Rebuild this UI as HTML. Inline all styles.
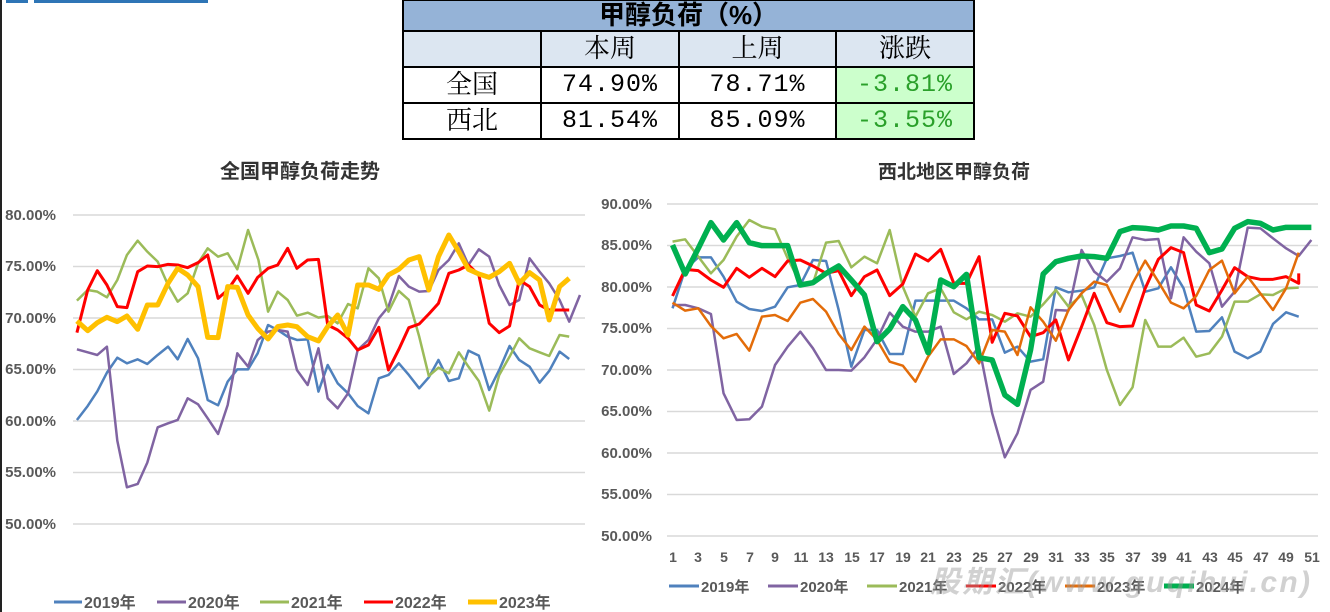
<!DOCTYPE html>
<html><head><meta charset="utf-8"><style>
body{margin:0;width:1330px;height:612px;background:#fff;overflow:hidden;position:relative;font-family:"Liberation Sans","Noto Sans CJK SC",sans-serif}
table{position:absolute;left:402px;top:-1px;border-collapse:collapse;font-family:"Liberation Serif","Noto Serif CJK SC",serif}
td{border:2px solid #000;text-align:center;font-size:26px;padding:0;height:34px;line-height:34px}
td.n{font-family:"Liberation Mono",monospace;font-size:25px;letter-spacing:1px;transform:none}
</style></head><body>
<div style="position:absolute;left:0;top:0;width:2px;height:612px;background:#222"></div>
<div style="position:absolute;left:6px;top:0;width:22px;height:3px;background:#2e75b6"></div>
<div style="position:absolute;left:34px;top:0;width:174px;height:3px;background:#2e75b6"></div>
<table>
<tr><td colspan="4" style="background:#95b3d7;font-weight:bold;height:29px;line-height:29px;font-family:'Liberation Sans','Noto Sans CJK SC',sans-serif">甲醇负荷（%）</td></tr>
<tr style="background:#dce6f1"><td style="width:136px"></td><td style="width:136px">本周</td><td style="width:155px">上周</td><td style="width:136px">涨跌</td></tr>
<tr><td>全国</td><td class="n">74.90%</td><td class="n">78.71%</td><td class="n" style="background:#ccffcc;color:#2aa02a">-3.81%</td></tr>
<tr><td>西北</td><td class="n">81.54%</td><td class="n">85.09%</td><td class="n" style="background:#ccffcc;color:#2aa02a">-3.55%</td></tr>
</table>
<svg width="1330" height="612" style="position:absolute;left:0;top:0" font-family="Liberation Sans, Noto Sans CJK SC, sans-serif">
<g font-weight="bold" font-size="20" fill="#333" text-anchor="middle">
<text x="300" y="178">全国甲醇负荷走势</text><text x="954" y="178" font-size="19">西北地区甲醇负荷</text></g>
<g stroke="#d9d9d9" stroke-width="1.5">
<line x1="73" x2="585" y1="215" y2="215"/><line x1="73" x2="585" y1="266.5" y2="266.5"/><line x1="73" x2="585" y1="318" y2="318"/><line x1="73" x2="585" y1="369.5" y2="369.5"/><line x1="73" x2="585" y1="421" y2="421"/><line x1="73" x2="585" y1="472.5" y2="472.5"/><line x1="73" x2="585" y1="524" y2="524"/>
<line x1="667" x2="1318" y1="204" y2="204"/><line x1="667" x2="1318" y1="245.5" y2="245.5"/><line x1="667" x2="1318" y1="287" y2="287"/><line x1="667" x2="1318" y1="328.5" y2="328.5"/><line x1="667" x2="1318" y1="370" y2="370"/><line x1="667" x2="1318" y1="411.5" y2="411.5"/><line x1="667" x2="1318" y1="453" y2="453"/><line x1="667" x2="1318" y1="494.5" y2="494.5"/><line x1="667" x2="1318" y1="536" y2="536"/></g>
<g font-weight="bold" font-size="15" fill="#595959" text-anchor="end">
<text x="56" y="220">80.00%</text><text x="56" y="271">75.00%</text><text x="56" y="323">70.00%</text><text x="56" y="374">65.00%</text><text x="56" y="426">60.00%</text><text x="56" y="477">55.00%</text><text x="56" y="529">50.00%</text>
<text x="652" y="209">90.00%</text><text x="652" y="250">85.00%</text><text x="652" y="292">80.00%</text><text x="652" y="333">75.00%</text><text x="652" y="375">70.00%</text><text x="652" y="416">65.00%</text><text x="652" y="458">60.00%</text><text x="652" y="499">55.00%</text><text x="652" y="541">50.00%</text></g>
<g font-weight="bold" font-size="14" fill="#595959" text-anchor="middle">
<text x="673" y="562">1</text><text x="698" y="562">3</text><text x="724" y="562">5</text><text x="750" y="562">7</text><text x="775" y="562">9</text><text x="801" y="562">11</text><text x="826" y="562">13</text><text x="852" y="562">15</text><text x="877" y="562">17</text><text x="903" y="562">19</text><text x="928" y="562">21</text><text x="954" y="562">23</text><text x="980" y="562">25</text><text x="1005" y="562">27</text><text x="1031" y="562">29</text><text x="1056" y="562">31</text><text x="1082" y="562">33</text><text x="1107" y="562">35</text><text x="1133" y="562">37</text><text x="1159" y="562">39</text><text x="1184" y="562">41</text><text x="1210" y="562">43</text><text x="1235" y="562">45</text><text x="1261" y="562">47</text><text x="1286" y="562">49</text><text x="1312" y="562">51</text></g>
<g fill="none" stroke-linejoin="round" transform="translate(0,190) scale(0.3846,0.3333)">
<polyline vector-effect="non-scaling-stroke" stroke="#4f81bd" stroke-width="2.5" points="200,690 228,648 253,604 278,548 305,503 330,520 358,508 383,522 410,495 437,470 462,508 488,447 515,505 540,630 567,646 592,575 617,538 645,538 670,490 697,405 722,420 748,440 772,450 800,448 828,605 852,525 878,580 905,610 930,648 958,670 985,565 1010,555 1037,520 1063,555 1090,595 1115,562 1140,510 1167,573 1193,565 1218,482 1245,497 1272,600 1298,540 1325,468 1350,510 1377,530 1403,578 1428,543 1455,485 1480,507"/>
<polyline vector-effect="non-scaling-stroke" stroke="#8064a2" stroke-width="2.5" points="200,478 228,487 253,495 278,470 305,752 330,892 358,882 383,818 410,712 437,700 462,690 488,625 515,643 540,685 567,732 592,645 617,490 645,530 670,450 697,425 722,420 748,425 772,540 800,585 828,475 852,625 878,655 905,610 930,480 958,450 985,385 1010,350 1037,258 1063,290 1090,305 1115,303 1140,240 1167,210 1193,160 1218,225 1245,178 1272,200 1298,285 1325,345 1350,330 1377,205 1403,245 1428,280 1455,330 1480,395 1508,315"/>
<polyline vector-effect="non-scaling-stroke" stroke="#9bbb59" stroke-width="2.5" points="200,332 228,300 253,305 278,322 305,270 330,195 358,152 383,185 410,215 437,285 462,335 488,310 515,220 540,175 567,200 592,190 617,238 645,120 672,210 697,365 722,305 748,330 772,377 800,368 828,383 852,378 878,400 905,342 930,355 958,235 985,265 1010,365 1037,303 1063,330 1090,440 1115,558 1140,533 1167,550 1193,487 1218,530 1245,573 1272,662 1298,555 1325,500 1350,445 1377,475 1403,487 1428,498 1455,435 1480,440"/>
<polyline vector-effect="non-scaling-stroke" stroke="#ff0000" stroke-width="3" points="200,428 228,300 253,242 278,285 305,350 330,353 358,245 383,228 410,230 437,223 462,225 488,233 515,218 540,195 567,325 592,300 617,258 645,310 670,262 697,235 722,225 748,175 772,235 800,210 828,208 852,405 878,420 905,445 930,480 958,465 985,412 1010,540 1037,478 1063,413 1090,402 1115,372 1140,340 1167,250 1193,240 1218,225 1245,255 1272,400 1298,428 1325,408 1350,270 1377,290 1403,345 1428,360 1455,360 1480,360"/>
<polyline vector-effect="non-scaling-stroke" stroke="#ffc000" stroke-width="5" points="200,393 228,422 253,398 278,382 305,395 330,378 358,418 383,345 410,345 437,280 462,235 488,255 515,290 540,442 567,443 592,290 617,292 645,375 670,415 697,447 722,410 748,405 772,410 800,440 828,453 852,410 878,375 905,435 930,285 958,285 985,298 1010,255 1037,238 1063,210 1090,200 1115,300 1140,200 1167,135 1193,185 1218,238 1245,252 1272,262 1298,245 1325,220 1350,280 1377,248 1403,270 1428,390 1455,290 1480,265"/>
</g>
<g fill="none" stroke-linejoin="round" transform="translate(600,180) scale(0.468,0.3333)">
<polyline vector-effect="non-scaling-stroke" stroke="#4f81bd" stroke-width="2.5" points="155,385 182,268 210,232 237,232 264,290 292,365 319,387 346,393 374,380 401,322 428,315 455,240 483,243 510,390 537,560 565,450 592,450 619,522 647,522 674,362 701,362 728,362 756,362 783,385 810,418 838,418 865,518 892,500 920,545 947,538 974,322 1001,337 1029,332 1056,322 1083,235 1111,228 1138,218 1165,335 1193,325 1220,262 1247,325 1274,455 1302,453 1329,412 1356,515 1384,535 1411,515 1438,432 1466,397 1493,410"/>
<polyline vector-effect="non-scaling-stroke" stroke="#8064a2" stroke-width="2.5" points="155,375 182,375 210,385 237,402 264,640 292,720 319,718 346,680 374,555 401,500 428,455 455,505 483,570 510,570 537,572 565,532 592,478 619,398 647,440 674,455 701,455 728,440 756,582 783,550 810,500 838,700 865,832 892,760 920,630 947,605 974,390 1001,392 1029,210 1056,275 1083,305 1111,265 1138,172 1165,180 1193,177 1220,355 1247,172 1274,215 1302,250 1329,380 1356,335 1384,143 1411,145 1438,175 1466,205 1493,228 1520,180"/>
<polyline vector-effect="non-scaling-stroke" stroke="#9bbb59" stroke-width="2.5" points="155,185 182,178 210,230 237,280 264,240 292,170 319,120 346,140 374,148 401,235 428,310 455,310 483,188 510,183 537,262 565,230 592,250 619,150 647,320 674,410 701,340 728,325 756,397 783,418 810,395 838,405 865,425 892,400 920,410 947,373 974,330 1001,380 1029,345 1056,435 1083,570 1111,675 1138,622 1165,420 1193,500 1220,500 1247,473 1274,530 1302,520 1329,470 1356,365 1384,365 1411,343 1438,345 1466,325 1493,323"/>
<polyline vector-effect="non-scaling-stroke" stroke="#ff0000" stroke-width="3" points="155,348 182,268 210,272 237,300 264,322 292,265 319,292 346,265 374,290 401,243 428,240 455,258 483,280 510,272 537,347 565,290 592,270 619,347 647,312 674,222 701,243 728,208 756,310 783,310 810,230 838,487 865,400 892,408 920,470 947,458 974,420 1001,540 1029,440 1056,340 1083,428 1111,440 1138,438 1165,325 1193,238 1220,203 1247,218 1274,375 1302,393 1329,330 1356,263 1384,290 1411,298 1438,298 1466,290 1493,310 1493,280"/>
<polyline vector-effect="non-scaling-stroke" stroke="#e36c09" stroke-width="2.5" points="155,368 182,392 210,385 237,438 264,475 292,462 319,512 346,410 374,405 401,423 428,368 455,357 483,395 510,462 537,510 565,440 592,480 619,545 647,557 674,605 701,530 728,478 756,478 783,498 810,550 838,450 865,455 892,525 920,382 947,425 974,482 1001,390 1029,340 1056,305 1083,315 1111,395 1138,310 1165,242 1193,305 1220,368 1247,385 1274,348 1302,270 1329,242 1356,340 1384,290 1411,340 1438,390 1466,325 1493,218"/>
<polyline vector-effect="non-scaling-stroke" stroke="#00b050" stroke-width="5.5" points="155,195 182,282 210,205 237,128 264,180 292,128 319,188 346,197 374,197 401,197 428,315 455,308 483,280 510,258 537,300 565,345 592,485 619,447 647,380 674,420 701,518 728,300 756,320 783,283 810,533 838,540 865,645 892,673 920,510 947,282 974,245 1001,235 1029,228 1056,230 1083,235 1111,155 1138,143 1165,145 1193,150 1220,138 1247,138 1274,145 1302,218 1329,207 1356,145 1384,125 1411,130 1438,150 1466,142 1493,142 1520,142"/>
</g>
<g font-weight="bold" font-size="16" fill="#595959">
<line x1="54" x2="82" y1="602" y2="602" stroke="#4f81bd" stroke-width="3"/><text x="84" y="608">2019年</text>
<line x1="157" x2="186" y1="602" y2="602" stroke="#8064a2" stroke-width="3"/><text x="188" y="608">2020年</text>
<line x1="260" x2="289" y1="602" y2="602" stroke="#9bbb59" stroke-width="3"/><text x="291" y="608">2021年</text>
<line x1="364" x2="393" y1="602" y2="602" stroke="#ff0000" stroke-width="3"/><text x="395" y="608">2022年</text>
<line x1="468" x2="497" y1="602" y2="602" stroke="#ffc000" stroke-width="5"/><text x="499" y="608">2023年</text></g>
<g font-weight="bold" font-size="15" fill="#595959">
<line x1="669" x2="699" y1="586" y2="586" stroke="#4f81bd" stroke-width="3"/><text x="701" y="592">2019年</text>
<line x1="768" x2="798" y1="586" y2="586" stroke="#8064a2" stroke-width="3"/><text x="800" y="592">2020年</text>
<line x1="867" x2="897" y1="586" y2="586" stroke="#9bbb59" stroke-width="3"/><text x="899" y="592">2021年</text>
<line x1="966" x2="996" y1="586" y2="586" stroke="#ff0000" stroke-width="3"/><text x="998" y="592">2022年</text>
<line x1="1065" x2="1095" y1="586" y2="586" stroke="#e36c09" stroke-width="3"/><text x="1097" y="592">2023年</text>
<line x1="1164" x2="1194" y1="586" y2="586" stroke="#00b050" stroke-width="5"/><text x="1196" y="592">2024年</text></g>
<text x="930" y="592" font-size="30" font-weight="bold" font-style="italic" fill="#999" fill-opacity="0.45" textLength="380">股期汇(www.guqihui.cn)</text>
</svg>
</body></html>
